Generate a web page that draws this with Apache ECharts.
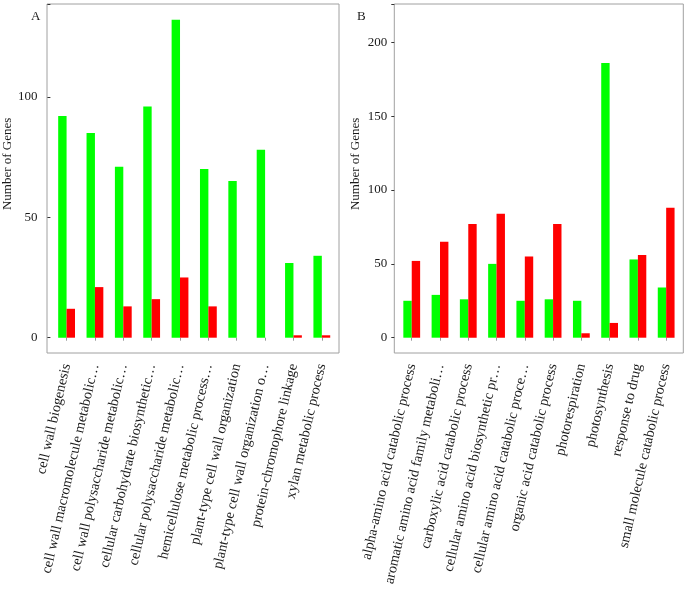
<!DOCTYPE html>
<html>
<head>
<meta charset="utf-8">
<script src="https://cdn.jsdelivr.net/npm/echarts@6/dist/echarts.min.js"></script>
<style>
html,body{margin:0;padding:0;background:#fff;}
#chart{width:685px;height:592px;}
</style>
</head>
<body>
<div id="chart"></div>
<script>
// Panel A data
var catsA = ["cell wall biogenesis", "cell wall macromolecule metabolic…", "cell wall polysaccharide metabolic…", "cellular carbohydrate biosynthetic…", "cellular polysaccharide metabolic…", "hemicellulose metabolic process…", "plant-type cell wall organization", "plant-type cell wall organization o…", "protein-chromophore linkage", "xylan metabolic process"];
var greenA = [92, 85, 71, 96, 132, 70, 65, 78, 31, 34];
var redA = [12, 21, 13, 16, 25, 13, 0, 0, 1, 1];
// Panel B data
var catsB = ["alpha-amino acid catabolic process", "aromatic amino acid family metaboli…", "carboxylic acid catabolic process", "cellular amino acid biosynthetic pr…", "cellular amino acid catabolic proce…", "organic acid catabolic process", "photorespiration", "photosynthesis", "response to drug", "small molecule catabolic process"];
var greenB = [25, 29, 26, 50, 25, 26, 25, 186, 53, 34];
var redB = [52, 65, 77, 84, 55, 77, 3, 10, 56, 88];
var yTicksA = [0, 50, 100];
var yTicksB = [0, 50, 100, 150, 200];

var FONT = "Liberation Serif";
var chart = echarts.init(document.getElementById('chart'), null, {renderer: 'canvas'});

function xAxisFor(cats, gi) {
  return {
    type: 'category', gridIndex: gi, data: cats, offset: 15.3,
    axisLine: {show: false},
    axisTick: {show: true, alignWithLabel: true, length: 3, interval: 0, lineStyle: {color: '#999'}},
    axisLabel: {interval: 0, rotate: 77, margin: 11, fontFamily: FONT, fontSize: 14.3, color: '#1a1a1a'}
  };
}
function yAxisFor(gi, max, off, margin, ticks) {
  return {
    type: 'value', gridIndex: gi, min: 0, max: max, interval: 50, offset: off,
    name: 'Number of Genes', nameLocation: 'middle', nameGap: 32,
    nameTextStyle: {fontFamily: FONT, fontSize: 13, color: '#1a1a1a', padding: [0, 0, 0, 14]},
    axisLine: {show: false},
    axisTick: {show: true, length: 3, lineStyle: {color: '#333'}},
    splitLine: {show: false},
    axisLabel: {margin: margin, fontFamily: FONT, fontSize: 13, color: '#1a1a1a',
      formatter: function (v) { return ticks.indexOf(v) >= 0 ? String(v) : ''; }}
  };
}
function bar(data, color, gi) {
  return {type: 'bar', xAxisIndex: gi, yAxisIndex: gi, data: data, barWidth: 8.4, barGap: '0%',
    itemStyle: {color: color}, silent: true};
}

chart.setOption({
  animation: false,
  backgroundColor: '#fff',
  title: [
    {text: 'A', left: 26, top: 5, textStyle: {fontFamily: FONT, fontSize: 13, fontWeight: 'normal', color: '#1a1a1a'}},
    {text: 'B', left: 352, top: 5, textStyle: {fontFamily: FONT, fontSize: 13, fontWeight: 'normal', color: '#1a1a1a'}}
  ],
  graphic: [
    {type: 'rect', shape: {x: 47, y: 4, width: 292, height: 349}, style: {fill: 'none', stroke: '#a0a0a0', lineWidth: 1}, silent: true},
    {type: 'rect', shape: {x: 394.3, y: 4, width: 289, height: 349}, style: {fill: 'none', stroke: '#a0a0a0', lineWidth: 1}, silent: true}
  ],
  grid: [
    {left: 49, width: 287, top: 4, height: 333.7},
    {left: 397.6, width: 282.7, top: 4, height: 333.7}
  ],
  xAxis: [xAxisFor(catsA, 0), xAxisFor(catsB, 1)],
  yAxis: [yAxisFor(0, 138.5, 2, 13, yTicksA), yAxisFor(1, 226, 3.3, 7, yTicksB)],
  series: [
    bar(greenA, '#00ff00', 0), bar(redA, '#ff0000', 0),
    bar(greenB, '#00ff00', 1), bar(redB, '#ff0000', 1)
  ]
});
</script>
</body>
</html>
